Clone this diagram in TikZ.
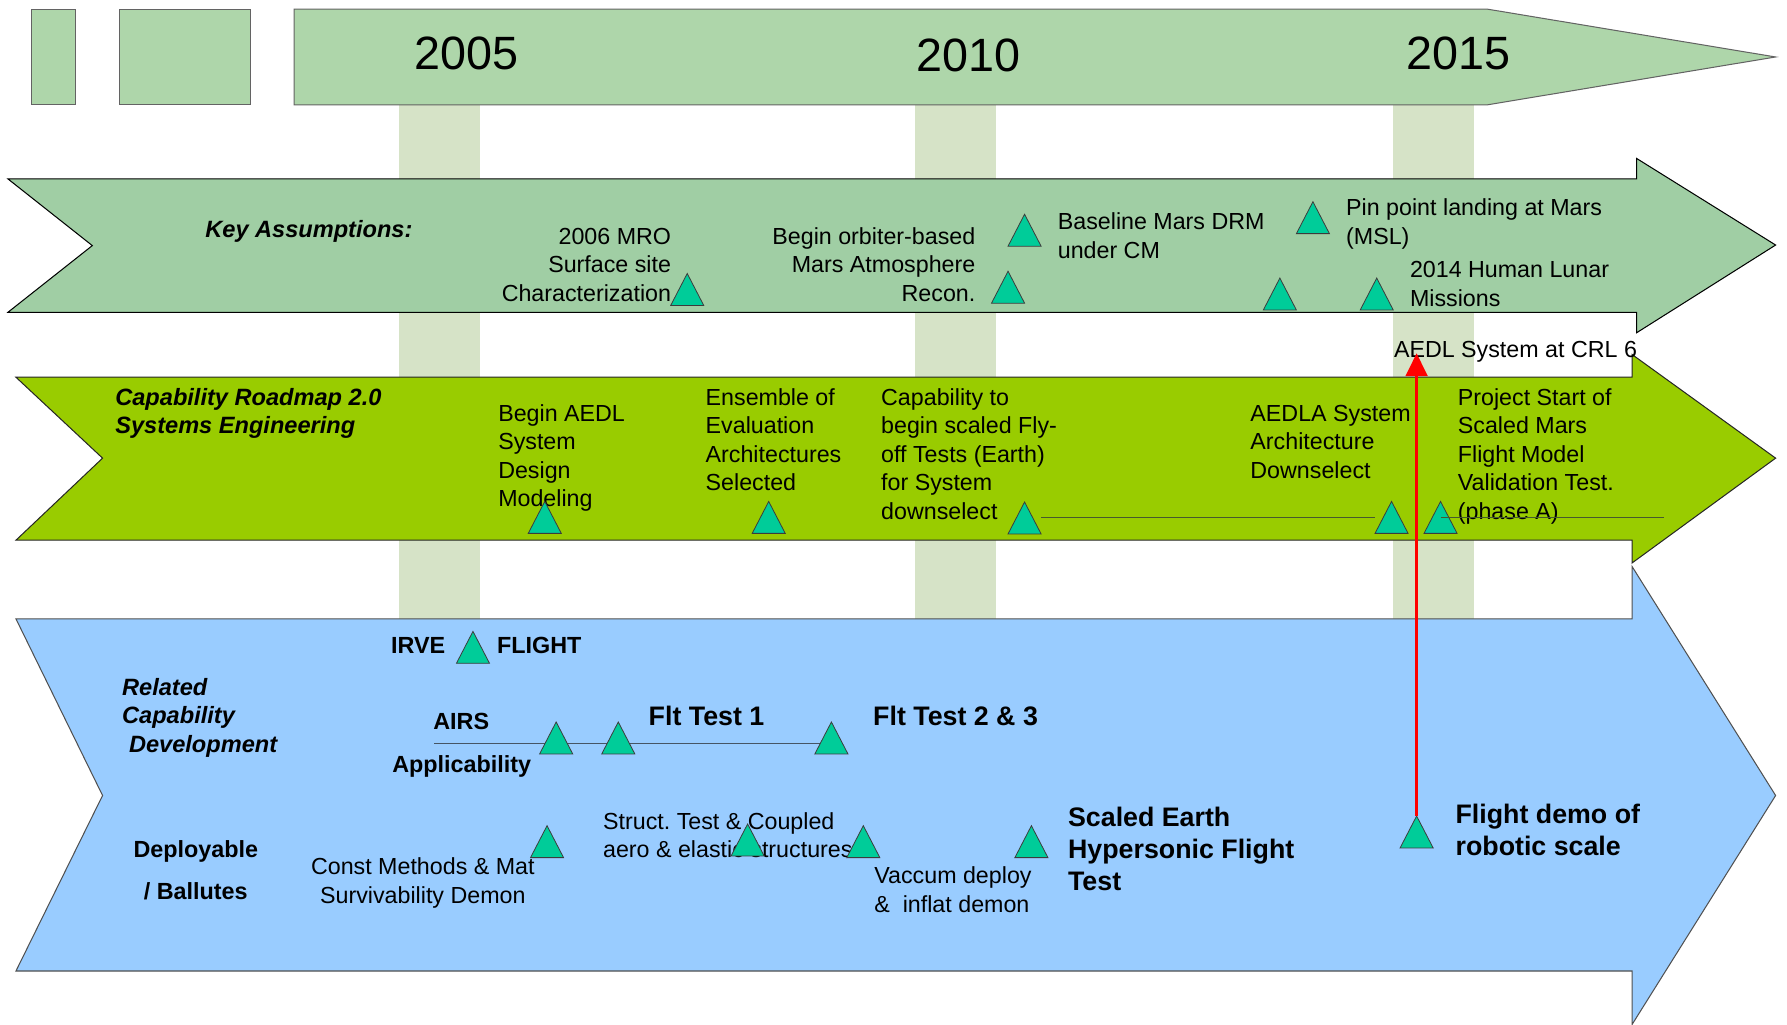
\documentclass[tikz,border=0pt]{standalone}
\usepackage{fontspec}
\setmainfont{Liberation Sans}
\usetikzlibrary{arrows.meta}
\frenchspacing
\definecolor{hdr}{RGB}{174,214,170}
\definecolor{paleband}{RGB}{214,227,199}
\definecolor{keyband}{RGB}{160,206,164}
\definecolor{capband}{RGB}{153,204,0}
\definecolor{relband}{RGB}{153,204,255}
\definecolor{tealmark}{RGB}{0,204,153}
\definecolor{outl}{RGB}{60,60,60}
\definecolor{capline}{RGB}{70,90,45}
\definecolor{airsline}{RGB}{70,85,100}
\newcommand{\ltab}[1]{\begin{tabular}[t]{@{}l@{}}#1\end{tabular}}
\newcommand{\rtab}[1]{\begin{tabular}[t]{@{}r@{}}#1\end{tabular}}
\newcommand{\ctab}[1]{\begin{tabular}[t]{@{}c@{}}#1\end{tabular}}
\tikzset{
  hdrbox/.style={fill=hdr, draw=outl!80, line width=0.9pt},
  bandshape/.style={line width=0.9pt, line join=miter},
  marker/.style={fill=tealmark, draw=outl, line width=0.7pt, line join=miter},
  milestone/.pic={
    \draw[marker] (-14.5,0) -- (0,-28) -- (14.5,0) -- cycle;
    \coordinate (-apex) at (0,-28);
  },
  txt/.style={inner sep=0pt, font=\fontsize{20.4}{25}\selectfont\frenchspacing, anchor=base west},
  txtr/.style={txt, anchor=base east},
  txtc/.style={txt, anchor=base},
  boldlbl/.style={inner sep=0pt, font=\fontsize{20.5}{25}\selectfont\bfseries, anchor=base west},
  bilbl/.style={inner sep=0pt, font=\fontsize{20.7}{25}\selectfont\bfseries\itshape, anchor=base west},
  biglbl/.style={inner sep=0pt, font=\fontsize{23.5}{28}\selectfont\bfseries, anchor=base west},
  yearlbl/.style={inner sep=0pt, font=\fontsize{41}{48}\selectfont, anchor=base},
  thinline/.style={line width=1pt},
  redarrow/.style={draw=red, line width=2.6pt, -{Triangle[length=20pt,width=19pt]}},
}
\begin{document}
\begin{tikzpicture}[x=1pt,y=-1pt]
\useasboundingbox (0,0) rectangle (1568,899);

% pale vertical year bands
\fill[paleband] (350,92) rectangle (421,543);
\fill[paleband] (803,92) rectangle (874,543);
\fill[paleband] (1222,92) rectangle (1293,543);

% header
\draw[hdrbox] (28,8) rectangle (66,92);
\draw[hdrbox] (105,8) rectangle (220,92);
\draw[hdrbox] (258,8) -- (1305,8) -- (1558,50) -- (1305,92) -- (258,92) -- cycle;
\node[yearlbl] (y2005) at (409,61) {2005};
\node[yearlbl] (y2010) at (850,63) {2010};
\node[yearlbl] (y2015) at (1279.5,61) {2015};

% bands
\draw[bandshape, fill=relband, draw=outl!90] (14,543) -- (1432,543) -- (1432,497) -- (1558,698) -- (1432,899) -- (1432,852) -- (14,852) -- (90,698) -- cycle;
\draw[bandshape, fill=capband, draw=black!85] (14,331) -- (1432,331) -- (1432,311) -- (1558,402) -- (1432,494) -- (1432,474) -- (14,474) -- (90,402) -- cycle;
\draw[bandshape, fill=keyband, draw=black] (7,157) -- (1436,157) -- (1436,139) -- (1558,215) -- (1436,292) -- (1436,274) -- (7,274) -- (81,215.5) -- cycle;

% ---------- Key assumptions ----------
\node[bilbl] (keyas) at (180,208.5) {Key Assumptions:};
\node[txtr] (mro) at (589,214.5) {\rtab{2006 MRO\\Surface site\\Characterization}};
\node[txtr] (orb) at (856,214.5) {\rtab{Begin orbiter-based\\Mars Atmosphere\\Recon.}};
\node[txt] (drm) at (928,201.5) {\ltab{Baseline Mars DRM\\under CM}};
\node[txt] (msl) at (1181,189.5) {\ltab{Pin point landing at Mars\\(MSL)}};
\node[txt] (lunar) at (1237,243.5) {\ltab{2014 Human Lunar\\Missions}};
\pic (k1) at (603,268) {milestone};
\pic (k2) at (884.5,266) {milestone};
\pic (k3) at (899,216) {milestone};
\pic (k4) at (1152,205) {milestone};
\pic (k5) at (1123,272) {milestone};
\pic (k6) at (1208,272) {milestone};

\node[txt] (crl) at (1223,313.5) {AEDL System at CRL 6};

% ---------- Capability roadmap ----------
\node[bilbl] (caprm) at (101,355.5) {\ltab{Capability Roadmap 2.0\\Systems Engineering}};
\node[txt] (beg) at (437,369.5) {\ltab{Begin AEDL\\System\\Design\\Modeling}};
\node[txt] (ens) at (619,355.5) {\ltab{Ensemble of\\Evaluation\\Architectures\\Selected}};
\node[txt] (capto) at (773,355.5) {\ltab{Capability to\\begin scaled Fly-\\off Tests (Earth)\\for System\\downselect}};
\node[txt] (aedla) at (1097,369.5) {\ltab{AEDLA System\\Architecture\\Downselect}};
\node[txt] (proj) at (1279,355.5) {\ltab{Project Start of\\Scaled Mars\\Flight Model\\Validation Test.\\(phase A)}};
\coordinate (cl1a) at (913.5,454);
\coordinate (cl1b) at (1206.5,454);
\draw[thinline, draw=capline] (cl1a) -- (cl1b);
\pic (c1) at (478,468) {milestone};
\pic (c2) at (674.5,468) {milestone};
\pic (c3) at (899,468.5) {milestone};
\pic (c4) at (1221,468) {milestone};
\pic (c5) at (1264,468) {milestone};
\coordinate (cl2b) at (1460,454);
\draw[thinline, draw=capline] (c5-apex |- cl1a) -- (cl2b);

% ---------- Related capability ----------
\node[bilbl] (relcap) at (107,610) {\ltab{Related\\Capability\\\hspace{6pt}Development}};
\node[boldlbl] (irve) at (343,573) {IRVE};
\node[boldlbl] (flight) at (436,573) {FLIGHT};
\pic (r0) at (415,582) {milestone};
\node[boldlbl] (airs) at (380,640) {AIRS};
\node[boldlbl] (appl) at (344,678) {Applicability};
\coordinate (al1) at (381,652);
\coordinate (al2) at (729.5,652);
\draw[thinline, draw=airsline] (al1) -- (al2);
\pic (r1) at (488,661.5) {milestone};
\pic (r2) at (542.5,661.5) {milestone};
\pic (r3) at (729.5,661.5) {milestone};
\node[biglbl] (ft1) at (569,636.5) {Flt Test 1};
\node[biglbl] (ft23) at (766,636.5) {Flt Test 2 \& 3};

\node[boldlbl] (depl) at (117,752) {Deployable};
\node[boldlbl] (ball) at (126,789) {/ Ballutes};
\node[txtc] (const) at (371,767.5) {\ctab{Const Methods \& Mat\\Survivability Demon}};
\node[txt] (struct) at (529,727.5) {\ltab{Struct. Test \& Coupled\\aero \& elastic structures}};
\node[txt] (vac) at (767,775.5) {\ltab{Vaccum deploy\\\& \ inflat demon}};
\pic (d1) at (480,752.5) {milestone};
\pic (d2) at (656,751) {milestone};
\pic (d3) at (757.5,752.5) {milestone};
\pic (d4) at (905,752.5) {milestone};
\node[biglbl] (scaled) at (937,725.5) {\ltab{Scaled Earth\\Hypersonic Flight\\Test}};
\pic (fd) at (1243,744) {milestone};
\node[biglbl] (fdemo) at (1277,722.5) {\ltab{Flight demo of\\robotic scale}};

% red connector
\coordinate (crltip) at (1243,310);
\draw[redarrow] (fd-apex) -- (fd-apex |- crltip);
\end{tikzpicture}
\end{document}
